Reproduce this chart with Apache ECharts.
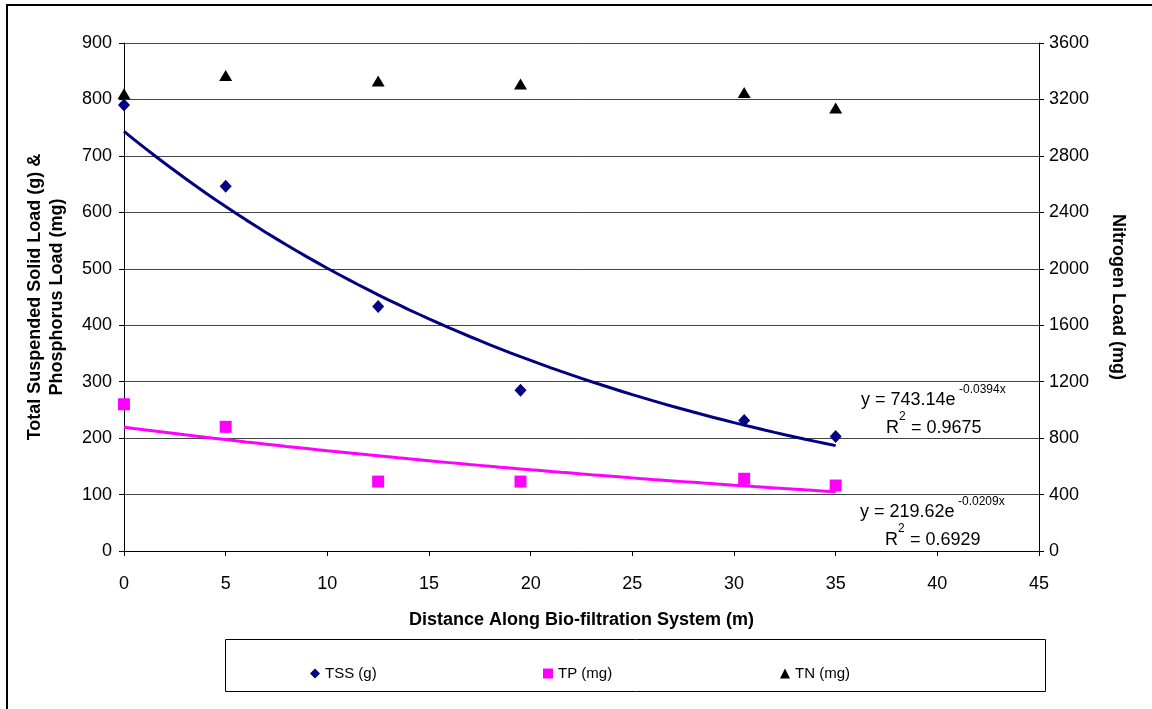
<!DOCTYPE html>
<html>
<head>
<meta charset="utf-8">
<script src="https://cdn.jsdelivr.net/npm/echarts@6/dist/echarts.min.js"></script>
<style>
  html, body { margin: 0; padding: 0; background: #fff; }
  #chart { width: 1152px; height: 709px; }
</style>
</head>
<body>
<div id="chart"></div>
<script>
// measured loads along the bio-filtration system
const distance = [0, 5, 12.5, 19.5, 30.5, 35];
const tssLoad = [790, 646, 433, 285, 231, 203];   // g
const tpLoad = [260, 220, 123, 123, 128, 116];    // mg
const tnLoad = [3240, 3370, 3330, 3310, 3250, 3140]; // mg

const xTicks = { min: 0, max: 45, interval: 5 };
const leftTicks = { min: 0, max: 900, interval: 100 };
const rightTicks = { min: 0, max: 3600, interval: 400 };

const tssEqText = ['y = 743.14e', '-0.0394x', '0.9675'];
const tpEqText = ['y = 219.62e', '-0.0209x', '0.6929'];

// exponential least-squares fit (same as the spreadsheet trendline)
function expFit(xs, ys) {
  const n = xs.length;
  const ly = ys.map(v => Math.log(v));
  const mx = xs.reduce((a, b) => a + b, 0) / n;
  const my = ly.reduce((a, b) => a + b, 0) / n;
  let sxy = 0, sxx = 0;
  xs.forEach((x, i) => { sxy += (x - mx) * (ly[i] - my); sxx += (x - mx) * (x - mx); });
  const b = sxy / sxx;
  return { a: Math.exp(my - b * mx), b };
}
function trendLine(xs, ys) {
  const f = expFit(xs, ys);
  const out = [];
  const x0 = xs[0], x1 = xs[xs.length - 1];
  for (let i = 0; i <= 70; i++) {
    const x = x0 + (x1 - x0) * i / 70;
    out.push([x, f.a * Math.exp(f.b * x)]);
  }
  return out;
}
const pairs = (xs, ys) => xs.map((x, i) => [x, ys[i]]);

const FONT = '"Liberation Sans", Arial, sans-serif';
const chart = echarts.init(document.getElementById('chart'), null, { renderer: 'canvas' });

function eqGraphics(x, y, parts) {
  const base = { fill: '#000', font: '18px ' + FONT, verticalAlign: 'middle', align: 'left' };
  const sup = { fill: '#000', font: '12px ' + FONT, verticalAlign: 'middle', align: 'left' };
  return [
    { type: 'text', x: x, y: y, style: Object.assign({ text: parts[0] }, base) },
    { type: 'text', x: x + 98, y: y - 10, style: Object.assign({ text: parts[1] }, sup) },
    { type: 'text', x: x + 25, y: y + 28, style: Object.assign({ text: 'R' }, base) },
    { type: 'text', x: x + 38, y: y + 17, style: Object.assign({ text: '2' }, sup) },
    { type: 'text', x: x + 45, y: y + 28, style: Object.assign({ text: ' = ' + parts[2] }, base) }
  ];
}

const legendCommon = {
  orient: 'horizontal', top: 661, itemWidth: 10, itemHeight: 10, itemGap: 5,
  textStyle: { fontFamily: FONT, fontSize: 15, color: '#000' }
};

chart.setOption({
  animation: false,
  backgroundColor: '#fff',
  grid: { left: 124, right: 113, top: 43, bottom: 158, containLabel: false },
  legend: [
    Object.assign({ left: 305, data: ['TSS (g)'] }, legendCommon),
    Object.assign({ left: 538, data: ['TP (mg)'] }, legendCommon),
    Object.assign({ left: 775, data: ['TN (mg)'] }, legendCommon)
  ],
  graphic: [
    { type: 'rect', shape: { x: 7, y: 5, width: 1160, height: 720 }, style: { fill: 'none', stroke: '#000', lineWidth: 2 }, silent: true },
    { type: 'rect', shape: { x: 225.5, y: 639.5, width: 820, height: 52 }, style: { fill: 'none', stroke: '#000', lineWidth: 1 }, silent: true }
  ].concat(eqGraphics(861, 400, tssEqText), eqGraphics(860, 512, tpEqText)),
  xAxis: {
    type: 'value', min: xTicks.min, max: xTicks.max, interval: xTicks.interval,
    name: 'Distance Along Bio-filtration System (m)', nameLocation: 'middle', nameGap: 60,
    nameTextStyle: { fontFamily: FONT, fontSize: 18, fontWeight: 'bold', color: '#000' },
    axisLine: { lineStyle: { color: '#000', width: 1 } },
    axisTick: { show: true, inside: false, length: 5, lineStyle: { color: '#000' } },
    axisLabel: { fontFamily: FONT, fontSize: 18, color: '#000', margin: 24 },
    splitLine: { show: false }
  },
  yAxis: [
    {
      type: 'value', position: 'left', min: leftTicks.min, max: leftTicks.max, interval: leftTicks.interval,
      name: 'Total Suspended Solid Load (g) &\nPhosphorus Load (mg)', nameLocation: 'middle', nameGap: 56, nameRotate: 90,
      nameTextStyle: { fontFamily: FONT, fontSize: 18, fontWeight: 'bold', color: '#000', lineHeight: 22 },
      axisLine: { show: true, lineStyle: { color: '#000', width: 1 } },
      axisTick: { show: true, length: 5, lineStyle: { color: '#000' } },
      axisLabel: { fontFamily: FONT, fontSize: 18, color: '#000', margin: 12 },
      splitLine: { show: true, lineStyle: { color: '#444', width: 1 } }
    },
    {
      type: 'value', position: 'right', min: rightTicks.min, max: rightTicks.max, interval: rightTicks.interval,
      name: 'Nitrogen Load (mg)', nameLocation: 'middle', nameGap: 70, nameRotate: -90,
      nameTextStyle: { fontFamily: FONT, fontSize: 18, fontWeight: 'bold', color: '#000' },
      axisLine: { show: true, lineStyle: { color: '#000', width: 1 } },
      axisTick: { show: true, length: 5, lineStyle: { color: '#000' } },
      axisLabel: { fontFamily: FONT, fontSize: 18, color: '#000', margin: 10, formatter: v => String(v) },
      splitLine: { show: false }
    }
  ],
  series: [
    {
      name: 'TSS trend', type: 'line', yAxisIndex: 0, data: trendLine(distance, tssLoad),
      showSymbol: false, smooth: false, lineStyle: { color: '#000080', width: 3 }, z: 2, silent: true
    },
    {
      name: 'TP trend', type: 'line', yAxisIndex: 0, data: trendLine(distance, tpLoad),
      showSymbol: false, smooth: false, lineStyle: { color: '#FF00FF', width: 3 }, z: 2, silent: true
    },
    {
      name: 'TSS (g)', type: 'scatter', yAxisIndex: 0, data: pairs(distance, tssLoad),
      symbol: 'diamond', symbolSize: [12, 13], itemStyle: { color: '#000080', opacity: 1 }, z: 5
    },
    {
      name: 'TP (mg)', type: 'scatter', yAxisIndex: 0, data: pairs(distance, tpLoad),
      symbol: 'rect', symbolSize: 12, itemStyle: { color: '#FF00FF', opacity: 1 }, z: 5
    },
    {
      name: 'TN (mg)', type: 'scatter', yAxisIndex: 1, data: pairs(distance, tnLoad),
      symbol: 'triangle', symbolSize: [13, 11], itemStyle: { color: '#000', opacity: 1 }, z: 5
    }
  ]
});
</script>
</body>
</html>
